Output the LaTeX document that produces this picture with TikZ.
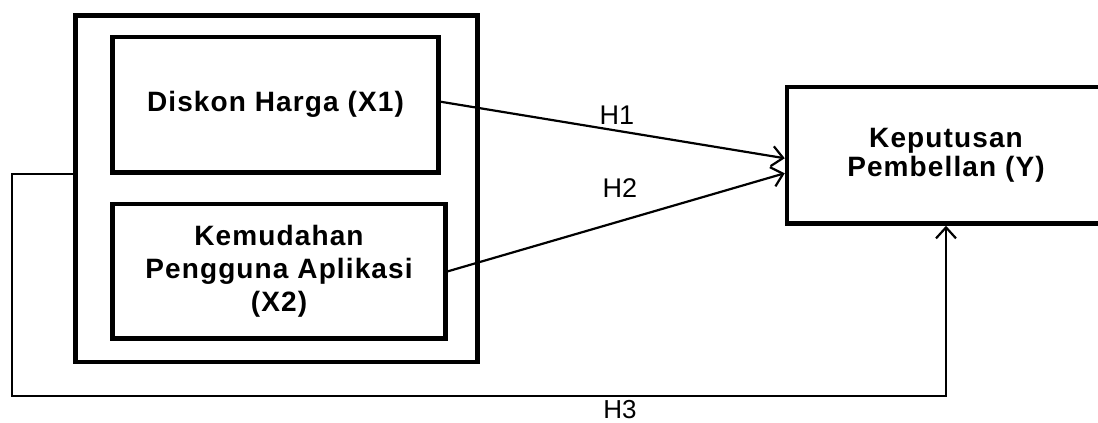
\documentclass[tikz,border=0pt]{standalone}
\usepackage{fontspec}
\setmainfont{Liberation Sans}
\newfontfamily\bxfont{Liberation Sans}[LetterSpace=4]
\usetikzlibrary{arrows.meta,calc}
\tikzset{
  varbox/.style={draw, line width=4.5pt, inner sep=0pt, align=center,
    font=\bxfont\bfseries\fontsize{28}{33}\selectfont},
  conn/.style={line width=2.2pt, -{Straight Barb[length=11pt,width=20pt,line width=2.2pt]}},
  hlabel/.style={font=\fontsize{27}{30}\selectfont, inner sep=0pt}
}
\begin{document}
\begin{tikzpicture}[x=1pt,y=-1pt]
\useasboundingbox (0,0) rectangle (1098,423);
\clip (0,0) rectangle (1098,423);
\fill[white] (0,0) rectangle (1098,423);
\node[varbox, minimum width=402pt, minimum height=346.5pt] (outer) at (276.5,188.75) {};
\node[varbox, minimum width=326pt, minimum height=135.5pt] (box1) at (275.5,104.75) {Diskon Harga (X1)};
\node[varbox, minimum width=333pt, minimum height=134.7pt] (box2) at (279,271.35) {Kemudahan\\Pengguna Aplikasi\\(X2)};
\node[varbox, minimum width=318pt, minimum height=136.5pt,
  font=\bxfont\bfseries\fontsize{28}{29}\selectfont] (Y) at (946,155.25) {Keputusan\\Pembellan (Y)};
\coordinate (fbL) at (12,174);
\coordinate (fbB) at (12,396);
\draw[conn] ([yshift=3pt]box1.east) -- ([yshift=-3pt]Y.west);
\draw[conn] (box2.east) -- ([yshift=-18pt]Y.west);
\draw[conn] (outer.west |- fbL) -- (fbL) -- (fbB) -- (Y.south |- fbB) -- (Y.south);
\node[hlabel] (h1) at (617,115) {H1};
\node[hlabel] (h2) at (620,188) {H2};
\node[hlabel, font=\fontsize{26}{30}\selectfont, anchor=base] (h3) at (620,418) {H3};
\end{tikzpicture}
\end{document}
